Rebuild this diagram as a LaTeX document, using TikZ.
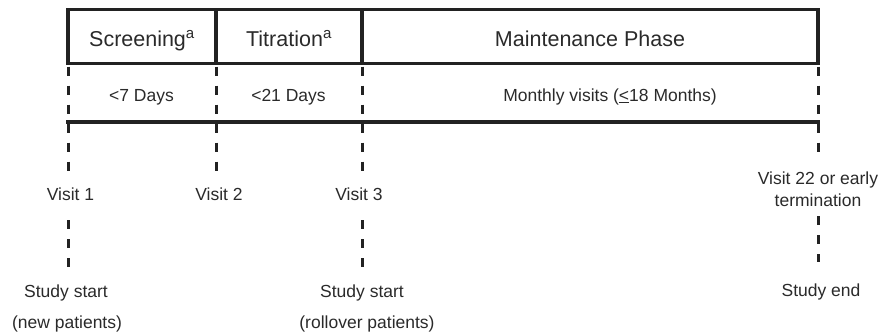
\documentclass[tikz,border=0pt]{standalone}
\usepackage{fontspec}
\setmainfont{Liberation Sans}
\definecolor{ink}{HTML}{222222}
\definecolor{txt}{HTML}{2A2A2A}
\begin{document}
\begin{tikzpicture}[x=1pt,y=-1pt,
  cell/.style={draw=ink, line width=3.5pt, anchor=north west, outer sep=0pt, minimum height=54.2pt, inner sep=0pt, text height=19.6pt, text depth=0pt, font=\fontsize{21.5}{25}\selectfont, text=txt},
  lbl/.style={inner sep=0pt, font=\fontsize{17.5}{22}\selectfont, text=txt},
  one/.style={lbl, text height=12.5pt, text depth=0pt},
  solidline/.style={draw=ink, line width=3.5pt},
  dashline/.style={draw=ink, line width=3pt, dash pattern=on 9pt off 10pt}]
\useasboundingbox (0,0) rectangle (878,335);
\node[cell, minimum width=148pt] (scr) at (68,9.5) {Screening\textsuperscript{a}};
\node[cell, minimum width=146pt] (tit) at (scr.north east) {Titration\textsuperscript{a}};
\node[cell, minimum width=456pt] (mnt) at (tit.north east) {Maintenance Phase};
\node[one] (d1) at (141.5,95) {<7 Days};
\node[one] (d2) at (288.5,95) {<21 Days};
\node[one] (d3) at (610,95) {Monthly visits (\underline{<}18 Months)};
\coordinate (lowL) at (66.25,122);
\coordinate (lowR) at (819.75,122);
\draw[solidline] (lowL) -- (lowR);
\node[one] (v1) at (70.5,194) {Visit 1};
\node[one] (v2) at (219,194) {Visit 2};
\node[one] (v3) at (359,194) {Visit 3};
\node[lbl, align=center, anchor=north] (v22) at (818,172) {Visit 22 or early\\termination};
\node[one] (s1) at (66,291) {Study start};
\node[one] (n1) at (67,322) {(new patients)};
\node[one] (s3) at (362,291) {Study start};
\node[one] (n3) at (367,322) {(rollover patients)};
\node[one] (se) at (821,290) {Study end};
\draw[dashline, shorten <=3pt, shorten >=17pt] (scr.south west) -- (scr.south west |- v1.north);
\draw[dashline, shorten <=3pt, shorten >=17pt] (tit.south west) -- (tit.south west |- v2.north);
\draw[dashline, shorten <=3pt, shorten >=17pt] (mnt.south west) -- (mnt.south west |- v3.north);
\draw[dashline, shorten <=3pt, shorten >=20pt] (mnt.south east) -- (mnt.south east |- v22.north);
\draw[dashline, shorten <=20pt, shorten >=15pt] (scr.south west |- v1.south) -- (scr.south west |- s1.north);
\draw[dashline, shorten <=20pt, shorten >=15pt] (mnt.south west |- v3.south) -- (mnt.south west |- s3.north);
\draw[dashline, shorten <=9pt, shorten >=22pt] (mnt.south east |- v22.south) -- (mnt.south east |- se.north);
\end{tikzpicture}
\end{document}
